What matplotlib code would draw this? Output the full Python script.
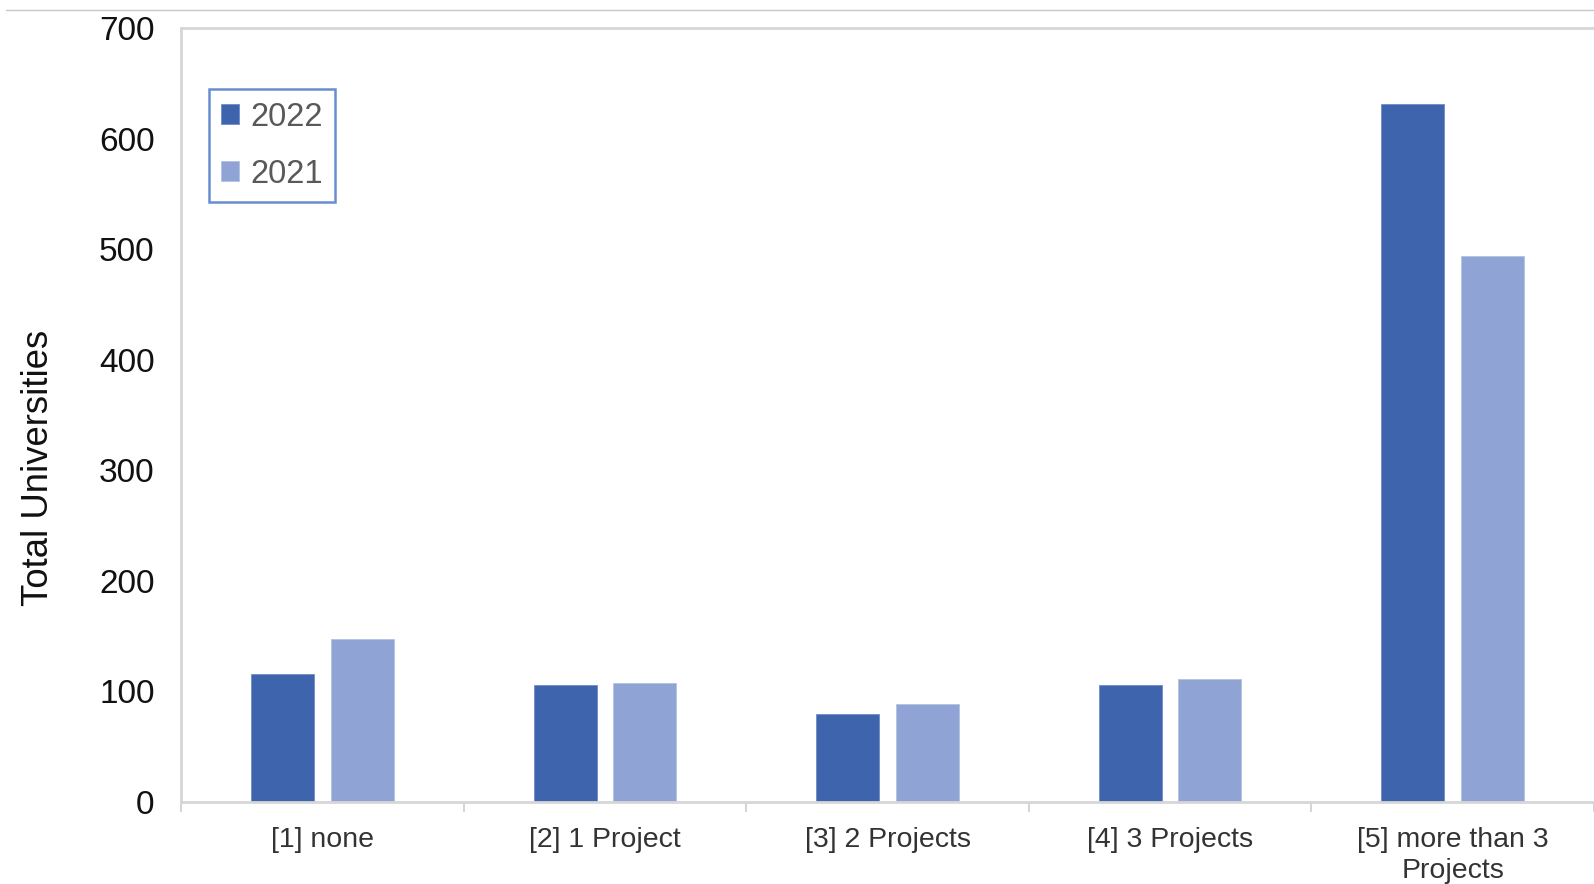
import numpy as np
import matplotlib
matplotlib.use("Agg")
import matplotlib.pyplot as plt
from matplotlib.lines import Line2D

categories = ["[1] none", "[2] 1 Project", "[3] 2 Projects",
              "[4] 3 Projects", "[5] more than 3\nProjects"]
values_2022 = [116, 106, 80, 106, 631]
values_2021 = [147, 108, 89, 111, 494]
y_ticks = [0, 100, 200, 300, 400, 500, 600, 700]

DARK = "#3d64ad"
LIGHT = "#8fa4d4"
FRAME = "#d6d6d6"

plt.rcParams["font.family"] = ["Liberation Sans", "DejaVu Sans"]

fig = plt.figure(figsize=(15.94, 8.84), dpi=100)
ax = fig.add_axes([0.1136, 0.0928, 0.8864, 0.8755])

x = np.arange(len(categories))
width = 0.223
offset = 0.141
ax.bar(x - offset, values_2022, width, color=DARK, edgecolor="#6f8cc6",
       linewidth=0.6, label="2022")
ax.bar(x + offset, values_2021, width, color=LIGHT, edgecolor="#b3c2e4",
       linewidth=0.6, label="2021")

ax.set_xlim(-0.5, len(categories) - 0.5)
ax.set_ylim(0, 700)
ax.set_yticks(y_ticks)
ax.tick_params(axis="y", length=0, pad=19, labelsize=24, labelcolor="#111111")

ax.set_xticks(x)
ax.set_xticklabels(categories, fontsize=20.5, color="#333333", linespacing=1.25)
ax.tick_params(axis="x", which="major", length=0, pad=18)
ax.set_xticks(np.arange(-0.5, len(categories)), minor=True)
ax.tick_params(axis="x", which="minor", length=7, width=1.5, color=FRAME)

# y label sits a bit below the axis centre
fig.text(0.0242, 0.4706, "Total Universities", fontsize=26.3, color="#111111",
         rotation=90, ha="center", va="center")

for side in ["left", "top", "bottom"]:
    ax.spines[side].set_color(FRAME)
    ax.spines[side].set_linewidth(2)
ax.spines["right"].set_visible(False)

leg = ax.legend(loc="upper left", bbox_to_anchor=(0.0195, 0.921), fontsize=23.5,
                frameon=True, fancybox=False, handlelength=0.55,
                handleheight=0.55, handletextpad=0.35, labelspacing=0.8,
                borderpad=0.38, borderaxespad=0)
leg.get_frame().set_edgecolor("#4472c4")
leg.get_frame().set_linewidth(1.8)
for txt in leg.get_texts():
    txt.set_color("#595959")

# thin rule across the top of the figure
fig.add_artist(Line2D([0.004, 1.0], [0.989, 0.989], color="#c8c8c8",
                      linewidth=1.0, transform=fig.transFigure))

fig.savefig("out.png", dpi=100)
